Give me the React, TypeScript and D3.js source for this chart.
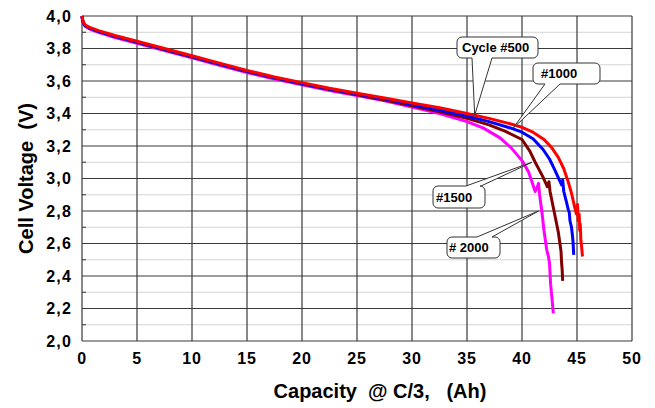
import React, { useEffect, useRef } from 'react'
import * as d3 from 'd3'

// cycle #500 (red)
const capacity500 = [0, 0.05, 0.15, 0.3, 0.7, 1.5, 3, 5, 7.5, 10, 12.5, 15, 17.5, 20, 22.5, 25, 27.5, 30, 32.5, 35, 37, 39, 40, 41, 42, 42.7, 43.3, 43.8, 44.2, 44.5, 44.8, 44.95, 45.05, 45.1, 45.2, 45.25, 45.3, 45.35, 45.42, 45.5]
const voltage500 = [4.0, 3.98, 3.96, 3.945, 3.93, 3.91, 3.88, 3.845, 3.8, 3.755, 3.71, 3.665, 3.625, 3.59, 3.555, 3.525, 3.495, 3.465, 3.435, 3.4, 3.37, 3.335, 3.315, 3.285, 3.24, 3.19, 3.13, 3.06, 2.98, 2.91, 2.82, 2.78, 2.84, 2.74, 2.78, 2.68, 2.72, 2.62, 2.58, 2.52]
// #1000 (blue)
const capacity1000 = [0, 0.05, 0.15, 0.3, 0.7, 1.5, 3, 5, 7.5, 10, 12.5, 15, 17.5, 20, 22.5, 25, 27.5, 30, 32.5, 35, 37, 39, 40, 41, 41.9, 42.5, 43.0, 43.4, 43.6, 43.7, 43.8, 44.06, 44.2, 44.3, 44.36, 44.5, 44.6, 44.65, 44.7]
const voltage1000 = [4.0, 3.975, 3.955, 3.94, 3.925, 3.905, 3.875, 3.84, 3.795, 3.75, 3.705, 3.66, 3.62, 3.585, 3.55, 3.52, 3.49, 3.455, 3.42, 3.385, 3.35, 3.31, 3.285, 3.245, 3.18, 3.12, 3.05, 2.99, 2.96, 2.99, 2.92, 2.85, 2.81, 2.79, 2.74, 2.7, 2.64, 2.6, 2.53]
// #1500 (dark red)
const capacity1500 = [0, 0.05, 0.15, 0.3, 0.7, 1.5, 3, 5, 7.5, 10, 12.5, 15, 17.5, 20, 22.5, 25, 27.5, 30, 32.5, 35, 37, 38.5, 40, 40.7, 41.2, 41.9, 42.3, 42.45, 42.55, 42.85, 43.15, 43.3, 43.45, 43.55, 43.6, 43.65, 43.7]
const voltage1500 = [4.0, 3.975, 3.955, 3.94, 3.925, 3.905, 3.873, 3.838, 3.792, 3.747, 3.702, 3.658, 3.618, 3.582, 3.547, 3.515, 3.483, 3.447, 3.41, 3.37, 3.33, 3.29, 3.24, 3.17, 3.1, 3.01, 2.95, 2.98, 2.92, 2.82, 2.72, 2.67, 2.6, 2.55, 2.48, 2.44, 2.37]
// #2000 (magenta)
const capacity2000 = [0, 0.05, 0.15, 0.3, 0.7, 1.5, 3, 5, 7.5, 10, 12.5, 15, 17.5, 20, 22.5, 25, 27.5, 30, 32.5, 35, 36.5, 38, 39, 40, 40.6, 41.2, 41.4, 41.5, 41.6, 41.8, 42.0, 42.25, 42.4, 42.5, 42.6, 42.7, 42.85]
const voltage2000 = [4.0, 3.97, 3.95, 3.935, 3.92, 3.9, 3.868, 3.832, 3.787, 3.742, 3.697, 3.652, 3.612, 3.577, 3.542, 3.51, 3.478, 3.44, 3.4, 3.35, 3.31, 3.25, 3.19, 3.11, 3.04, 2.92, 2.95, 2.97, 2.9, 2.8, 2.68, 2.56, 2.52, 2.48, 2.35, 2.28, 2.17]

const xTicks = [0, 5, 10, 15, 20, 25, 30, 35, 40, 45, 50]
const yTicks = [2.0, 2.2, 2.4, 2.6, 2.8, 3.0, 3.2, 3.4, 3.6, 3.8, 4.0]

const callouts = [
  { label: 'Cycle #500', tipX: 35.7, tipY: 3.39, box: [457, 37, 81, 21], tx: 462, side: 'bottom', base: [472, 492] },
  { label: '#1000', tipX: 39.2, tipY: 3.31, box: [533, 63, 67, 21], tx: 541, side: 'bottom', base: [545, 560] },
  { label: '#1500', tipX: 40.9, tipY: 3.1, box: [433, 186, 52, 22], tx: 436, side: 'top', base: [466, 481] },
  { label: '# 2000', tipX: 41.5, tipY: 2.8, box: [447, 237, 53, 21], tx: 449, side: 'top', base: [477, 492] },
]

function bubble(b, side, base, tip, r) {
  const [x, y, w, h] = b
  const p = d3.path()
  p.moveTo(x + r, y)
  if (side === 'top') {
    p.lineTo(base[0], y)
    p.lineTo(tip[0], tip[1])
    p.lineTo(base[1], y)
  }
  p.lineTo(x + w - r, y)
  p.arcTo(x + w, y, x + w, y + r, r)
  p.lineTo(x + w, y + h - r)
  p.arcTo(x + w, y + h, x + w - r, y + h, r)
  if (side === 'bottom') {
    p.lineTo(base[1], y + h)
    p.lineTo(tip[0], tip[1])
    p.lineTo(base[0], y + h)
  }
  p.lineTo(x + r, y + h)
  p.arcTo(x, y + h, x, y + h - r, r)
  p.lineTo(x, y + r)
  p.arcTo(x, y, x + r, y, r)
  p.closePath()
  return p.toString()
}

export default function App() {
  const ref = useRef(null)

  useEffect(() => {
    const width = 655, height = 408
    const margin = { top: 16, right: 23, bottom: 67, left: 82 }
    const svg = d3.select(ref.current)
    svg.selectAll('*').remove()
    svg.attr('width', width).attr('height', height)
      .style('font-family', '"Liberation Sans", Arial, sans-serif')

    const x = d3.scaleLinear().domain([0, 50]).range([margin.left, width - margin.right])
    const y = d3.scaleLinear().domain([2.0, 4.0]).range([height - margin.bottom, margin.top])

    const g = svg.append('g')

    // minor horizontal grid
    const minor = d3.range(2.1, 4.0, 0.2)
    g.selectAll('.minor').data(minor).enter().append('line')
      .attr('x1', x(0)).attr('x2', x(50))
      .attr('y1', d => y(d)).attr('y2', d => y(d))
      .attr('stroke', '#d4d4d4').attr('stroke-width', 1)
    g.selectAll('.mtick').data(minor).enter().append('line')
      .attr('x1', x(0)).attr('x2', x(0) + 4)
      .attr('y1', d => y(d)).attr('y2', d => y(d))
      .attr('stroke', '#333')

    g.selectAll('.hgrid').data(yTicks).enter().append('line')
      .attr('x1', x(0)).attr('x2', x(50))
      .attr('y1', d => y(d)).attr('y2', d => y(d))
      .attr('stroke', '#3a3a3a').attr('stroke-width', 1.2)
    g.selectAll('.vgrid').data(xTicks).enter().append('line')
      .attr('x1', d => x(d)).attr('x2', d => x(d))
      .attr('y1', y(2)).attr('y2', y(4))
      .attr('stroke', '#3a3a3a').attr('stroke-width', 1.2)

    // tick labels
    g.selectAll('.ylab').data(yTicks).enter().append('text')
      .attr('x', x(0) - 10).attr('y', d => y(d)).attr('dy', '0.36em')
      .attr('text-anchor', 'end').attr('font-size', 16).attr('font-weight', 'bold')
      .attr('letter-spacing', 1.2)
      .text(d => d3.format('.1f')(d).replace('.', ','))
    g.selectAll('.xlab').data(xTicks).enter().append('text')
      .attr('x', d => x(d)).attr('y', y(2) + 23)
      .attr('text-anchor', 'middle').attr('font-size', 16).attr('font-weight', 'bold')
      .attr('letter-spacing', 0.8)
      .text(d => d)

    svg.append('text')
      .attr('transform', `translate(33,${(y(2) + y(4)) / 2}) rotate(-90)`)
      .attr('text-anchor', 'middle').attr('font-size', 20).attr('font-weight', 'bold')
      .style('white-space', 'pre')
      .text('Cell Voltage  (V)')
    svg.append('text')
      .attr('x', 380).attr('y', 398)
      .attr('text-anchor', 'middle').attr('font-size', 20).attr('font-weight', 'bold')
      .style('white-space', 'pre')
      .text('Capacity  @ C/3,   (Ah)')

    const series = [
      { c: capacity2000, v: voltage2000, color: '#ff00ff' },
      { c: capacity1500, v: voltage1500, color: '#800000' },
      { c: capacity1000, v: voltage1000, color: '#0000ff' },
      { c: capacity500, v: voltage500, color: '#ff0000' },
    ]
    const line = d3.line().x(d => x(d[0])).y(d => y(d[1])).curve(d3.curveLinear)
    series.forEach(s => {
      g.append('path')
        .attr('d', line(s.c.map((c, i) => [c, s.v[i]])))
        .attr('fill', 'none').attr('stroke', s.color).attr('stroke-width', 3)
        .attr('stroke-linejoin', 'round')
    })

    callouts.forEach(c => {
      g.append('path')
        .attr('d', bubble(c.box, c.side, c.base, [x(c.tipX), y(c.tipY)], 5))
        .attr('fill', '#fff').attr('stroke', '#333').attr('stroke-width', 1)
      g.append('text')
        .attr('x', c.tx).attr('y', c.box[1] + c.box[3] / 2).attr('dy', '0.36em')
        .attr('font-size', 13).attr('font-weight', 'bold')
        .text(c.label)
    })
  }, [])

  return <svg ref={ref} style={{ position: 'absolute', left: 0, top: 0, background: '#fff' }} />
}
